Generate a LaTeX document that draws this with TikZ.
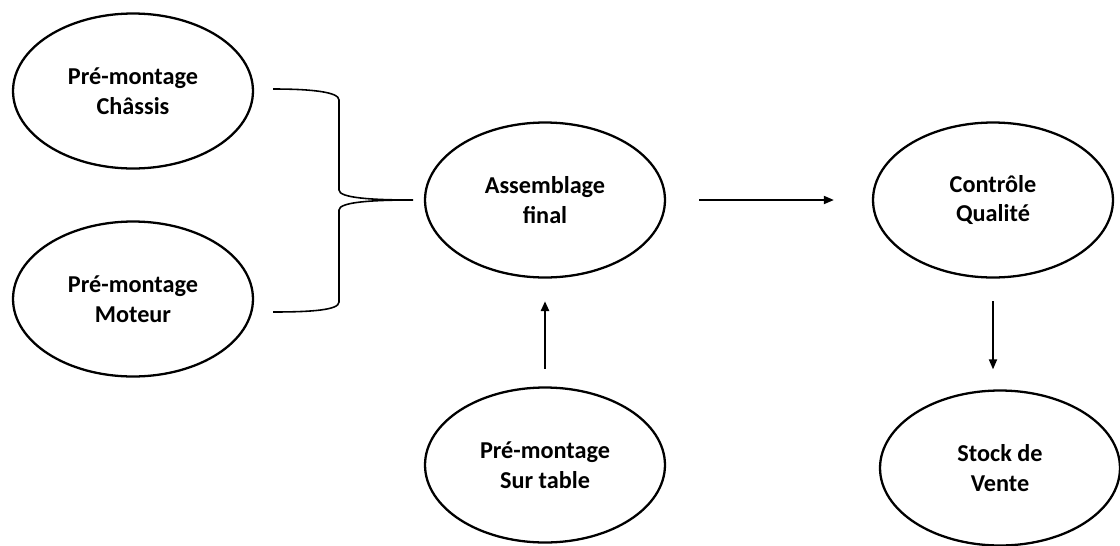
\documentclass[tikz,border=0pt]{standalone}
\usepackage{fontspec}
\setmainfont{Carlito}
\usetikzlibrary{shapes.geometric,arrows.meta}

\begin{document}
\begin{tikzpicture}[x=0.02cm, y=-0.02cm,
  etape/.style={ellipse, draw, line width=1.3pt, minimum width=4.8cm,
    minimum height=3.1cm, inner sep=0pt, align=center,
    font=\fontsize{13.8}{16.8}\selectfont\bfseries},
  fleche/.style={line width=1pt, -{Triangle[length=2mm, width=1.6mm]}}]
  \useasboundingbox (0,0) rectangle (1120,545);
  \node[etape] (chassis) at (133,91) {Pré-montage\\Châssis};
  \node[etape] (moteur) at (133,299) {Pré-montage\\Moteur};
  \node[etape] (assemblage) at (545,200) {Assemblage\\final};
  \node[etape] (controle) at (993,200) {Contrôle\\Qualité};
  \node[etape] (table) at (545,465) {Pré-montage\\Sur table};
  \node[etape] (stock) at (1000,468) {Stock de\\Vente};
  \coordinate (haut) at (273,89);
  \coordinate (bas) at (273,312);
  \coordinate (pointe) at (413,200);
  \draw[line width=0.9pt]
  (haut) .. controls (312,89) and (339,92) .. (339,100)
  -- (339,190) .. controls (339,198) and (372,200) .. (pointe)
  .. controls (372,200) and (339,202) .. (339,210)
  -- (339,302) .. controls (339,310) and (312,312) .. (bas);
  \draw[fleche, shorten <=0.66cm, shorten >=0.76cm] (assemblage.east) to (controle.west);
  \draw[fleche, line width=1.4pt, shorten <=0.35cm, shorten >=0.45cm] (table.north) to (assemblage.south);
  \draw[fleche, shorten <=0.45cm, shorten >=0.4cm] (controle.south) to (controle.south |- stock.north);
\end{tikzpicture}
\end{document}
